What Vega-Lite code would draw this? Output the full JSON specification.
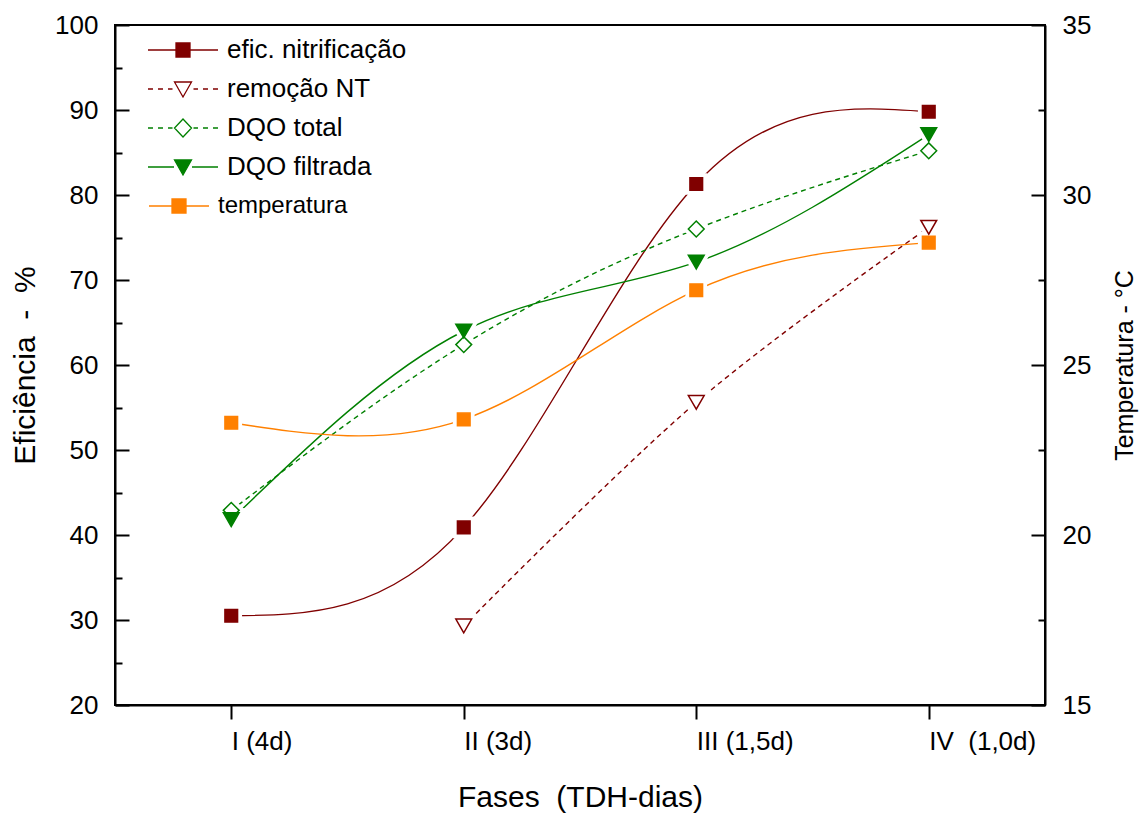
{
  "$schema": "https://vega.github.io/schema/vega-lite/v6.json",
  "width": 930,
  "height": 680,
  "autosize": {"type": "none"},
  "padding": {"left": 115, "top": 25, "right": 101, "bottom": 114},
  "background": "white",
  "config": {
    "font": "Liberation Sans",
    "view": {"stroke": "black", "strokeWidth": 2},
    "axis": {"domainColor": "black", "domainWidth": 2, "tickColor": "black", "tickWidth": 2, "labelColor": "black", "titleColor": "black", "labelFont": "Liberation Sans", "titleFont": "Liberation Sans", "titleFontWeight": "normal", "grid": false, "labelOverlap": false, "labelFlush": false, "labelBound": false}
  },
  "datasets": {
    "pontos": [
      {"fase": "I", "serie": "efic. nitrificação", "valor": 30.5},
      {"fase": "II", "serie": "efic. nitrificação", "valor": 40.9},
      {"fase": "III", "serie": "efic. nitrificação", "valor": 81.3},
      {"fase": "IV", "serie": "efic. nitrificação", "valor": 89.8},
      {"fase": "II", "serie": "remoção NT", "valor": 29.3},
      {"fase": "III", "serie": "remoção NT", "valor": 55.6},
      {"fase": "IV", "serie": "remoção NT", "valor": 76.2},
      {"fase": "I", "serie": "DQO total", "valor": 42.9},
      {"fase": "II", "serie": "DQO total", "valor": 62.4},
      {"fase": "III", "serie": "DQO total", "valor": 76.0},
      {"fase": "IV", "serie": "DQO total", "valor": 85.2},
      {"fase": "I", "serie": "DQO filtrada", "valor": 41.8},
      {"fase": "II", "serie": "DQO filtrada", "valor": 64.0},
      {"fase": "III", "serie": "DQO filtrada", "valor": 72.1},
      {"fase": "IV", "serie": "DQO filtrada", "valor": 87.1},
      {"fase": "I", "serie": "temperatura", "valor": 23.3},
      {"fase": "II", "serie": "temperatura", "valor": 23.4},
      {"fase": "III", "serie": "temperatura", "valor": 27.2},
      {"fase": "IV", "serie": "temperatura", "valor": 28.6}
    ]
  },
  "data": {"name": "pontos"},
  "encoding": {
    "x": {
      "field": "fase", "type": "ordinal",
      "scale": {"type": "point", "padding": 0.5, "domain": ["I", "II", "III", "IV"]},
      "axis": {
        "title": "Fases\u00a0\u00a0(TDH-dias)", "titleFontSize": 30, "titlePadding": 28,
        "labelFontSize": 26, "labelAngle": 0, "labelAlign": "left", "labelBaseline": "top", "labelPadding": 9,
        "tickSize": 14,
        "labelExpr": "datum.value === 'I' ? 'I (4d)' : datum.value === 'II' ? 'II (3d)' : datum.value === 'III' ? 'III (1,5d)' : 'IV\u00a0\u00a0(1,0d)'",
        "encode": {"labels": {"update": {"dx": {"signal": "datum.value === 'I' ? -3.6 : datum.value === 'II' ? -7.2 : datum.value === 'III' ? -10.8 : -12.3"}}}}
      }
    }
  },
  "resolve": {"scale": {"y": "independent"}},
  "layer": [
    {
      "transform": [{"filter": "datum.serie === 'efic. nitrificação' || datum.serie === 'DQO filtrada'"}],
      "mark": {"type": "line", "interpolate": "natural", "strokeWidth": 1.4},
      "encoding": {
        "y": {"field": "valor", "type": "quantitative", "scale": {"domain": [20, 100], "nice": false, "zero": false}, "axis": null},
        "color": {
          "field": "serie", "type": "nominal",
          "scale": {"domain": ["efic. nitrificação", "remoção NT", "DQO total", "DQO filtrada", "temperatura"], "range": ["#800000", "#800000", "#008000", "#008000", "#ff8000"]},
          "legend": {
            "title": null, "orient": "none", "legendX": 55, "legendY": 12, "padding": 0,
            "symbolSize": 400, "labelOffset": 31, "labelFontSize": 26, "labelLimit": 0, "labelFont": "Liberation Sans", "labelColor": "black", "rowPadding": 13, "symbolStrokeWidth": 1.3,
            "encode": {
              "symbols": {"update": {
                "shape": {"signal": "datum.value === 'efic. nitrificação' ? 'M-3.5,0H-0.75M0.75,0H3.5M-0.7,-0.7H0.7V0.7H-0.7Z' : datum.value === 'remoção NT' ? 'M-3.5,0H-3M-2.5,0H-2M-1.5,0H-1.05M1.05,0H1.5M2,0H2.5M3,0H3.5M-0.85,-0.7H0.85L0,0.8Z' : datum.value === 'DQO total' ? 'M-3.5,0H-3M-2.5,0H-2M-1.5,0H-1.05M1.05,0H1.5M2,0H2.5M3,0H3.5M0,-0.9L0.85,0L0,0.9L-0.85,0Z' : datum.value === 'DQO filtrada' ? 'M-3.5,0H-0.9M0.9,0H3.5M-0.85,-0.7H0.85L0,0.8Z' : 'M-3.4,0H-1.15M0.35,0H2.6M-1.1,-0.7H0.3V0.7H-1.1Z'"},
                "fill": {"signal": "datum.value === 'remoção NT' || datum.value === 'DQO total' ? 'white' : scale('color', datum.value)"},
                "strokeWidth": {"value": 1.3},
                "opacity": {"value": 1}
              }},
              "labels": {"update": {
                "fontSize": {"signal": "datum.value === 'temperatura' ? 24 : 26"},
                "dx": {"signal": "datum.value === 'temperatura' ? -9 : 0"}
              }}
            }
          }
        }
      }
    },
    {
      "transform": [{"filter": "datum.serie === 'DQO total'"}],
      "mark": {"type": "line", "interpolate": "natural", "strokeWidth": 1.4, "strokeDash": [5, 4]},
      "encoding": {
        "y": {"field": "valor", "type": "quantitative", "scale": {"domain": [20, 100], "nice": false, "zero": false}, "axis": null},
        "color": {"field": "serie", "type": "nominal", "legend": null}
      }
    },
    {
      "transform": [{"filter": "datum.serie === 'remoção NT'"}],
      "mark": {"type": "line", "interpolate": "cardinal", "strokeWidth": 1.4, "strokeDash": [5, 4]},
      "encoding": {
        "y": {"field": "valor", "type": "quantitative", "scale": {"domain": [20, 100], "nice": false, "zero": false}, "axis": null},
        "color": {"field": "serie", "type": "nominal", "legend": null}
      }
    },
    {
      "transform": [{"filter": "datum.serie === 'temperatura'"}],
      "mark": {"type": "line", "interpolate": "natural", "strokeWidth": 1.4},
      "encoding": {
        "y": {"field": "valor", "type": "quantitative", "scale": {"domain": [15, 35], "nice": false, "zero": false}, "axis": null},
        "color": {"field": "serie", "type": "nominal", "legend": null}
      }
    },
    {
      "transform": [{"filter": "datum.serie !== 'temperatura'"}],
      "mark": {"type": "point", "filled": true, "fill": "white", "stroke": "white", "strokeWidth": 9, "opacity": 1},
      "encoding": {
        "y": {"field": "valor", "type": "quantitative", "scale": {"domain": [20, 100], "nice": false, "zero": false}, "axis": null},
        "shape": {"field": "serie", "type": "nominal", "scale": {"domain": ["efic. nitrificação", "remoção NT", "DQO total", "DQO filtrada"], "range": ["square", "triangle-down", "diamond", "triangle-down"]}, "legend": null},
        "size": {"condition": {"test": "datum.serie === 'efic. nitrificação'", "value": 160}, "value": 250}
      }
    },
    {
      "transform": [{"filter": "datum.serie === 'temperatura'"}],
      "mark": {"type": "point", "filled": true, "fill": "white", "stroke": "white", "strokeWidth": 9, "opacity": 1, "shape": "square", "size": 160},
      "encoding": {
        "y": {"field": "valor", "type": "quantitative", "scale": {"domain": [15, 35], "nice": false, "zero": false}, "axis": null}
      }
    },
    {
      "transform": [{"filter": "datum.serie !== 'temperatura'"}],
      "mark": {"type": "point", "filled": true, "strokeWidth": 1.5, "opacity": 1},
      "encoding": {
        "y": {
          "field": "valor", "type": "quantitative", "scale": {"domain": [20, 100], "nice": false, "zero": false},
          "axis": {
            "orient": "left", "values": [20, 25, 30, 35, 40, 45, 50, 55, 60, 65, 70, 75, 80, 85, 90, 95, 100],
            "labelExpr": "datum.value % 10 === 0 ? datum.label : ''",
            "tickSize": {"condition": {"test": "datum.value % 10 === 0", "value": -14}, "value": -7},
            "labelPadding": 31, "labelFontSize": 26,
            "title": "Eficiência\u00a0\u00a0-\u00a0\u00a0%", "titleFontSize": 30, "titlePadding": 14
          }
        },
        "shape": {"field": "serie", "type": "nominal", "legend": null},
        "fill": {"field": "serie", "type": "nominal", "scale": {"domain": ["efic. nitrificação", "remoção NT", "DQO total", "DQO filtrada"], "range": ["#800000", "white", "white", "#008000"]}, "legend": null},
        "stroke": {"field": "serie", "type": "nominal", "scale": {"domain": ["efic. nitrificação", "remoção NT", "DQO total", "DQO filtrada"], "range": ["#800000", "#800000", "#008000", "#008000"]}, "legend": null},
        "size": {"condition": {"test": "datum.serie === 'efic. nitrificação'", "value": 160}, "value": 250}
      }
    },
    {
      "transform": [{"filter": "datum.serie === 'temperatura'"}],
      "mark": {"type": "point", "filled": true, "strokeWidth": 1.5, "opacity": 1, "shape": "square", "size": 160, "fill": "#ff8000", "stroke": "#ff8000"},
      "encoding": {
        "y": {
          "field": "valor", "type": "quantitative", "scale": {"domain": [15, 35], "nice": false, "zero": false},
          "axis": {
            "orient": "right", "values": [15, 17.5, 20, 22.5, 25, 27.5, 30, 32.5, 35],
            "labelExpr": "datum.value % 5 === 0 ? datum.label : ''",
            "tickSize": {"condition": {"test": "datum.value % 5 === 0", "value": -14}, "value": -7},
            "labelPadding": 31, "labelFontSize": 26,
            "title": "Temperatura - °C", "titleFontSize": 25, "titleAngle": 270, "titleBaseline": "top", "titlePadding": 22
          }
        }
      }
    }
  ]
}
